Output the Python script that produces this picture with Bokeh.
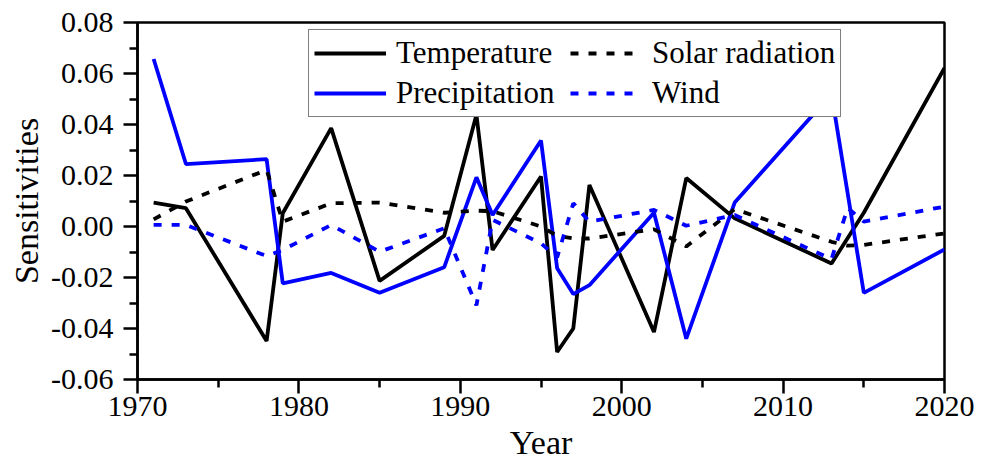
from bokeh.plotting import figure
from bokeh.models import FixedTicker, PrintfTickFormatter, Legend, LegendItem, Range1d
from bokeh.embed import file_html
from bokeh.resources import INLINE

years_tp = [1971, 1973, 1978, 1979, 1982, 1985, 1989, 1991, 1992, 1995, 1996, 1997,
            1998, 2002, 2004, 2007, 2013, 2015, 2020]
temperature = [0.0094, 0.0072, -0.0449, 0.0052, 0.0386, -0.0213, -0.0037, 0.0438, -0.0092,
               0.0196, -0.0492, -0.0400, 0.0163, -0.0414, 0.0190, 0.0032, -0.0145, 0.0054, 0.0622]
precipitation = [0.0657, 0.0245, 0.0264, -0.0223, -0.0182, -0.0260, -0.0160, 0.0193, 0.0045,
                 0.0337, -0.0164, -0.0265, -0.0230, 0.0054, -0.0440, 0.0094, 0.0520, -0.0260, -0.0090]

years_sw = [1971, 1973, 1978, 1979, 1982, 1985, 1989, 1991, 1992, 1995, 1996, 1997,
            1998, 2002, 2004, 2007, 2013, 2014, 2015, 2020]
solar = [0.0028, 0.0098, 0.0222, 0.0019, 0.0091, 0.0094, 0.0054, 0.0062, 0.0060, 0.0000,
         -0.0037, -0.0047, -0.0047, -0.0011, -0.0078, 0.0068, -0.0060, -0.0075, -0.0072, -0.0027]
wind = [0.0006, 0.0006, -0.0116, -0.0092, 0.0006, -0.0099, -0.0007, -0.0309, 0.0026, -0.0066,
        -0.0121, 0.0091, 0.0019, 0.0065, 0.0003, 0.0045, -0.0128, 0.0073, 0.0019, 0.0078]

x_ticks = [1970, 1980, 1990, 2000, 2010, 2020]
x_minor = [1975, 1985, 1995, 2005, 2015]
y_ticks = [-0.06, -0.04, -0.02, 0.0, 0.02, 0.04, 0.06, 0.08]
y_minor = [-0.05, -0.03, -0.01, 0.01, 0.03, 0.05, 0.07]

FONT = "Liberation Serif"
FW, FH = 807, 357

p = figure(frame_width=FW, frame_height=FH,
           x_range=Range1d(1970, 2020), y_range=Range1d(-0.06, 0.08),
           output_backend="svg", toolbar_location=None,
           min_border_left=137, min_border_right=48, min_border_top=22, min_border_bottom=0)

p.grid.visible = False
p.outline_line_color = "black"
p.outline_line_width = 2.5
p.outline_line_alpha = 1

p.xaxis.ticker = FixedTicker(ticks=x_ticks, minor_ticks=x_minor)
p.yaxis.ticker = FixedTicker(ticks=y_ticks, minor_ticks=y_minor)
p.xaxis.formatter = PrintfTickFormatter(format="%d")
p.yaxis.formatter = PrintfTickFormatter(format="%.2f")
p.xaxis.axis_label = "Year"
p.yaxis.axis_label = "Sensitivities"

for ax in (p.xaxis[0], p.yaxis[0]):
    ax.axis_line_width = 2.5
    ax.axis_line_color = "black"
    ax.major_tick_line_width = 2.5
    ax.minor_tick_line_width = 2.5
    ax.major_tick_line_color = "black"
    ax.minor_tick_line_color = "black"
    ax.major_tick_out = 14
    ax.major_tick_in = 0
    ax.minor_tick_out = 8
    ax.minor_tick_in = 0
    ax.major_label_text_font = FONT
    ax.major_label_text_font_size = "30px"
    ax.major_label_text_color = "black"
    ax.axis_label_text_font = FONT
    ax.axis_label_text_font_size = "34px"
    ax.axis_label_text_font_style = "normal"
    ax.axis_label_text_color = "black"

p.xaxis[0].major_label_standoff = 3
p.xaxis[0].axis_label_standoff = 5
p.yaxis[0].major_label_standoff = 10
p.yaxis[0].axis_label_standoff = 3

r1 = p.line(years_tp, temperature, line_color="black", line_width=3.8)
r2 = p.line(years_tp, precipitation, line_color="#0000ff", line_width=3.8)
r3 = p.line(years_sw, solar, line_color="black", line_width=3.8, line_dash="8 10")
r4 = p.line(years_sw, wind, line_color="#0000ff", line_width=3.8, line_dash="8 10")

LEG_H = 86
legend = Legend(items=[LegendItem(label="Temperature", renderers=[r1]),
                       LegendItem(label="Solar radiation", renderers=[r3]),
                       LegendItem(label="Precipitation", renderers=[r2]),
                       LegendItem(label="Wind", renderers=[r4])],
                location=(171, FH - 9 - LEG_H), ncols=2, orientation="horizontal")
legend.border_line_color = "black"
legend.border_line_width = 1.5
legend.background_fill_color = "white"
legend.background_fill_alpha = 1
legend.label_text_font = FONT
legend.label_text_font_size = "31px"
legend.label_text_color = "black"
legend.glyph_width = 72
legend.glyph_height = 30
legend.label_height = 30
legend.label_width = 170
legend.label_standoff = 10
legend.spacing = 4
legend.padding = 5
legend.margin = 0
p.add_layout(legend)

open("out.html", "w").write(file_html(p, INLINE))
